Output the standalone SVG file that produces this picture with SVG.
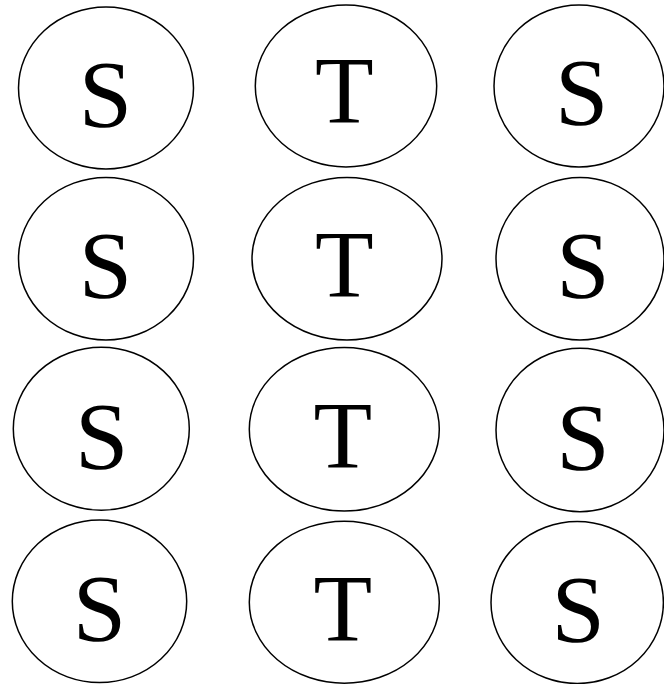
<svg xmlns="http://www.w3.org/2000/svg" width="664" height="684" viewBox="0 0 664 684">
<style>
.n ellipse{fill:#fff;stroke:#000;stroke-width:1.5}
.n text{font-family:"Liberation Serif","Times New Roman",serif;font-size:96px;text-anchor:middle;fill:#000}
</style>
<rect width="664" height="684" fill="#fff"/>
<g id="connectors"/>
<g id="n1" class="n"><ellipse cx="106" cy="88" rx="87.5" ry="81"/><text x="105.5" y="126.5">S</text></g>
<g id="n2" class="n"><ellipse cx="346" cy="86" rx="90.7" ry="81"/><text x="344.3" y="123.3">T</text></g>
<g id="n3" class="n"><ellipse cx="579" cy="86" rx="85" ry="81"/><text x="581.8" y="125">S</text></g>
<g id="n4" class="n"><ellipse cx="106" cy="258.7" rx="87.5" ry="81.3"/><text x="105.5" y="298.3">S</text></g>
<g id="n5" class="n"><ellipse cx="347" cy="258.7" rx="95" ry="81.3"/><text x="344.3" y="296.7">T</text></g>
<g id="n6" class="n"><ellipse cx="580" cy="258.7" rx="84" ry="81.3"/><text x="583" y="298.3">S</text></g>
<g id="n7" class="n"><ellipse cx="101.3" cy="428.8" rx="88" ry="81.5"/><text x="101.7" y="469">S</text></g>
<g id="n8" class="n"><ellipse cx="344.3" cy="429.3" rx="95" ry="81.8"/><text x="342.7" y="468.3">T</text></g>
<g id="n9" class="n"><ellipse cx="580" cy="430" rx="84" ry="81.7"/><text x="583" y="469.7">S</text></g>
<g id="n10" class="n"><ellipse cx="99.5" cy="601.3" rx="87.2" ry="81.3"/><text x="99.5" y="641.3">S</text></g>
<g id="n11" class="n"><ellipse cx="344.3" cy="602.2" rx="95" ry="81"/><text x="342.7" y="641">T</text></g>
<g id="n12" class="n"><ellipse cx="577.2" cy="602.5" rx="86.2" ry="81"/><text x="578.3" y="642.3">S</text></g>
</svg>
